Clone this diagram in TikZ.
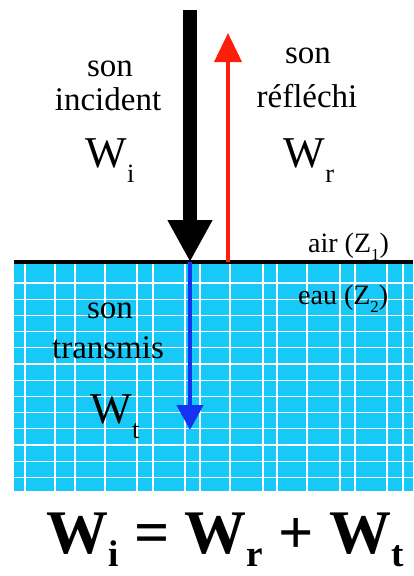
\documentclass[tikz,border=0pt]{standalone}
\usepackage{fontspec}
\setmainfont{Liberation Serif}
\newfontfamily\timesfont{Liberation Serif}
\usetikzlibrary{arrows.meta, positioning}
\definecolor{eaucyan}{HTML}{17C9F6}
\definecolor{sonred}{HTML}{FF1E0A}
\definecolor{sonblue}{HTML}{1432F0}

% letter with a lowered subscript
\newcommand{\Lsub}[3][0.35em]{#2\raisebox{-#1}{\scalebox{0.6}{#3}}}

\begin{document}
\begin{tikzpicture}[
  x=1pt, y=-1pt,
  lbl/.style={font=\timesfont\fontsize{33}{38}\selectfont, inner sep=0pt, anchor=base},
  wlbl/.style={font=\timesfont\fontsize{44}{50}\selectfont, inner sep=0pt, anchor=base},
  mlbl/.style={font=\timesfont\fontsize{28}{34}\selectfont, inner sep=0pt, anchor=base west},
  grid/.style={white, line width=1.2pt}
]
\useasboundingbox (0,0) rectangle (413,576);

% ---- Water ----
\fill[eaucyan] (14,262) rectangle (413,491);
\begin{scope}
  \clip (14,262) rectangle (413,491);
  \foreach \y in {0,...,12}
    \draw[grid] (14,283+16.2*\y) -- (413,283+16.2*\y);
  \foreach \x in {25,55,75,105,137,153,185,200,230,263,277,307,340,355,387,403}
    \draw[grid] (\x,262) -- (\x,491);
\end{scope}
\draw[black, line width=4pt] (14,262) -- (413,262);

% ---- Points ----
\coordinate (incTop) at (190,10);
\coordinate (impact) at (190,262);
\coordinate (reflBase) at (228,262);
\coordinate (reflTip) at (228,33);
\coordinate (transTip) at (190,430);

% ---- Arrows ----
\draw[black, line width=14pt,
  -{Triangle[length=42pt, width=42pt]}] (incTop) -- (impact);
\draw[sonred, line width=4pt,
  -{Triangle[length=29pt, width=27pt]}] (reflBase) -- (reflTip);
\draw[sonblue, line width=4.5pt,
  -{Triangle[length=25pt, width=26pt]}] (impact) -- (transTip);

% ---- Labels ----
\node[lbl] (sonI) at (110,76) {son};
\node[lbl] (incI) at (108,110) {incident};
\node[wlbl] (wI) at (110,167) {\Lsub{W}{i}};

\node[lbl] (sonR) at (308,63) {son};
\node[lbl] (reflR) at (307,107) {réfléchi};
\node[wlbl] (wR) at (309,167) {\Lsub{W}{r}};

\node[mlbl] (air) at (308,252) {air (\Lsub[0.3em]{Z}{1})};
\node[mlbl] (eau) at (298,304) {eau (\Lsub[0.3em]{Z}{2})};

\node[lbl] (sonT) at (110,318) {son};
\node[lbl] (transT) at (108,358) {transmis};
\node[wlbl] (wT) at (115,423) {\Lsub{W}{t}};

% ---- Equation ----
\node[font=\timesfont\fontsize{62}{70}\selectfont\bfseries, inner sep=0pt, anchor=base west]
  (bilan) at (46,553) {\Lsub[0.22em]{W}{i} = \Lsub[0.22em]{W}{r} + \Lsub[0.22em]{W}{t}};
\end{tikzpicture}
\end{document}
